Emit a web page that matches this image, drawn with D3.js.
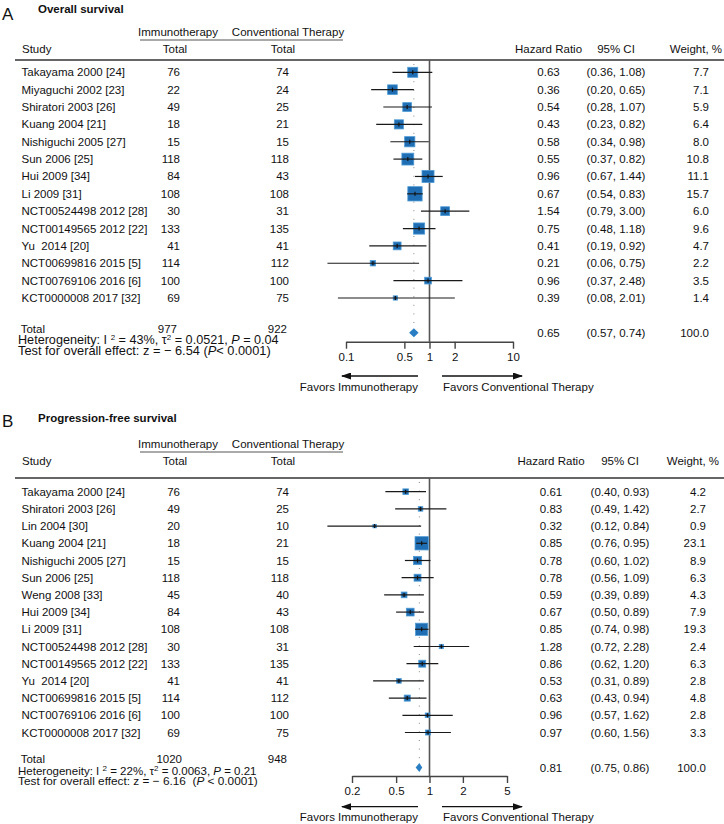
<!DOCTYPE html>
<html>
<head>
<meta charset="utf-8">
<script src="https://cdn.jsdelivr.net/npm/d3@7"></script>
<style>
body { margin: 0; background: #fff; }
svg text { font-family: "Liberation Sans", Arial, Helvetica, sans-serif; font-size: 11.5px; fill: #111; white-space: pre; }
</style>
</head>
<body>
<svg id="chart" width="724" height="824"></svg>
<script>
// ---- A: overall survival ----
var osStudies = ['Takayama 2000 [24]', 'Miyaguchi 2002 [23]', 'Shiratori 2003 [26]', 'Kuang 2004 [21]',
    'Nishiguchi 2005 [27]', 'Sun 2006 [25]', 'Hui 2009 [34]', 'Li 2009 [31]', 'NCT00524498 2012 [28]',
    'NCT00149565 2012 [22]', 'Yu  2014 [20]', 'NCT00699816 2015 [5]', 'NCT00769106 2016 [6]', 'KCT0000008 2017 [32]'];
var osImmuno = [76, 22, 49, 18, 15, 118, 84, 108, 30, 133, 41, 114, 100, 69];
var osConv = [74, 24, 25, 21, 15, 118, 43, 108, 31, 135, 41, 112, 100, 75];
var osHR = [0.63, 0.36, 0.54, 0.43, 0.58, 0.55, 0.96, 0.67, 1.54, 0.75, 0.41, 0.21, 0.96, 0.39];
var osLow = [0.36, 0.20, 0.28, 0.23, 0.34, 0.37, 0.67, 0.54, 0.79, 0.48, 0.19, 0.06, 0.37, 0.08];
var osHigh = [1.08, 0.65, 1.07, 0.82, 0.98, 0.82, 1.44, 0.83, 3.00, 1.18, 0.92, 0.75, 2.48, 2.01];
var osWeight = [7.7, 7.1, 5.9, 6.4, 8.0, 10.8, 11.1, 15.7, 6.0, 9.6, 4.7, 2.2, 3.5, 1.4];
var osTotal = [977, 922, 0.65, 0.57, 0.74, 100.0];
var osTicks = [0.1, 0.5, 1, 2, 10];
var osHet = ['43%', '0.0521', '0.04'];
var osTest = ['6.54', '(', '< 0.0001)'];

// ---- B: progression-free survival ----
var pfsStudies = ['Takayama 2000 [24]', 'Shiratori 2003 [26]', 'Lin 2004 [30]', 'Kuang 2004 [21]',
    'Nishiguchi 2005 [27]', 'Sun 2006 [25]', 'Weng 2008 [33]', 'Hui 2009 [34]', 'Li 2009 [31]',
    'NCT00524498 2012 [28]', 'NCT00149565 2012 [22]', 'Yu  2014 [20]', 'NCT00699816 2015 [5]',
    'NCT00769106 2016 [6]', 'KCT0000008 2017 [32]'];
var pfsImmuno = [76, 49, 20, 18, 15, 118, 45, 84, 108, 30, 133, 41, 114, 100, 69];
var pfsConv = [74, 25, 10, 21, 15, 118, 40, 43, 108, 31, 135, 41, 112, 100, 75];
var pfsHR = [0.61, 0.83, 0.32, 0.85, 0.78, 0.78, 0.59, 0.67, 0.85, 1.28, 0.86, 0.53, 0.63, 0.96, 0.97];
var pfsLow = [0.40, 0.49, 0.12, 0.76, 0.60, 0.56, 0.39, 0.50, 0.74, 0.72, 0.62, 0.31, 0.43, 0.57, 0.60];
var pfsHigh = [0.93, 1.42, 0.84, 0.95, 1.02, 1.09, 0.89, 0.89, 0.98, 2.28, 1.20, 0.89, 0.94, 1.62, 1.56];
var pfsWeight = [4.2, 2.7, 0.9, 23.1, 8.9, 6.3, 4.3, 7.9, 19.3, 2.4, 6.3, 2.8, 4.8, 2.8, 3.3];
var pfsTotal = [1020, 948, 0.81, 0.75, 0.86, 100.0];
var pfsTicks = [0.2, 0.5, 1, 2, 5];
var pfsHet = ['22%', '0.0063', '0.21'];
var pfsTest = ['6.16', ' (', ' < 0.0001)'];

var svg = d3.select('#chart');
var f2 = d3.format('.2f'), f1 = d3.format('.1f');

// arrowhead
svg.append('defs').append('marker')
    .attr('id', 'arrow').attr('markerUnits', 'userSpaceOnUse')
    .attr('markerWidth', 10).attr('markerHeight', 7)
    .attr('refX', 9).attr('refY', 3.5).attr('orient', 'auto')
    .append('path').attr('d', 'M0,0 L10,3.5 L0,7 Z').attr('fill', '#111');

function text(x, y, s, anchor) {
    return svg.append('text').attr('x', x).attr('y', y).attr('dy', '0.35em')
        .attr('text-anchor', anchor || 'start').text(s);
}

// scale the font of a footer line to the width seen in the picture
function fitWidth(t, target) {
    var w = t.node().getComputedTextLength();
    var fs = Math.min(12.8, 11.5 * target / w);
    t.style('font-size', fs + 'px');
}

function drawPanel(p) {
    var x = d3.scaleLog().domain([p.ticks[0], p.ticks[p.ticks.length - 1]]).range(p.range);
    var side = d3.scaleSqrt().domain([0, d3.max(p.weight)]).range([0, p.sqMax]);
    var y = function(i) { return p.row0 + i * p.step; };

    // titles
    text(2, p.letterY, p.letter).style('font-size', '17px');
    text(38, p.titleY, p.title).style('font-weight', 'bold');

    // headers
    text(178, p.groupY, 'Immunotherapy', 'middle');
    text(288, p.groupY, 'Conventional Therapy', 'middle');
    svg.append('line').attr('x1', 140).attr('x2', 343).attr('y1', p.underY).attr('y2', p.underY)
        .attr('stroke', '#555').attr('stroke-width', 1);
    text(22, p.headY, 'Study');
    text(175, p.headY, 'Total', 'middle');
    text(283, p.headY, 'Total', 'middle');
    text(p.hrX, p.headY, 'Hazard Ratio', 'middle');
    text(p.ciX, p.headY, '95% CI', 'middle');
    text(p.wX + 13, p.headY, 'Weight, %', 'end');
    svg.append('line').attr('x1', 15).attr('x2', 724).attr('y1', p.lineY).attr('y2', p.lineY)
        .attr('stroke', '#666').attr('stroke-width', 2);

    // null line and pooled dotted line
    svg.append('line').attr('x1', x(1)).attr('x2', x(1)).attr('y1', p.lineY).attr('y2', p.axisY)
        .attr('stroke', '#555').attr('stroke-width', 1.6);
    svg.append('line').attr('x1', x(p.total[2])).attr('x2', x(p.total[2]))
        .attr('y1', p.lineY + 4).attr('y2', p.totalRY - 5)
        .attr('stroke', '#888').attr('stroke-width', 1).attr('stroke-dasharray', '1,7.6');

    // study rows
    p.studies.forEach(function(s, i) {
        var cy = y(i);
        text(21.5, cy, s);
        text(180, cy, String(p.immuno[i]), 'end');
        text(289, cy, String(p.conv[i]), 'end');
        text(p.hrX, cy, f2(p.hr[i]), 'middle');
        text(p.ciX, cy, '(' + f2(p.low[i]) + ', ' + f2(p.high[i]) + ')', 'middle');
        text(p.wX, cy, f1(p.weight[i]), 'end');

        var w = Math.max(side(p.weight[i]), 3.5);
        svg.append('rect').attr('x', x(p.hr[i]) - w / 2).attr('y', cy - w / 2)
            .attr('width', w).attr('height', w)
            .attr('fill', '#1f6db2').attr('stroke', '#4d9bd6').attr('stroke-width', 0.8);
        svg.append('line').attr('x1', x(p.low[i])).attr('x2', x(p.high[i])).attr('y1', cy).attr('y2', cy)
            .attr('stroke', '#1a1a1a').attr('stroke-width', 1.2);
        svg.append('line').attr('x1', x(p.hr[i])).attr('x2', x(p.hr[i])).attr('y1', cy - 2).attr('y2', cy + 2)
            .attr('stroke', '#111').attr('stroke-width', 1.2);
    });

    // total row
    text(20.7, p.totalLY, 'Total');
    text(p.totImX, p.totalLY, String(p.total[0]), 'end');
    text(287, p.totalLY, String(p.total[1]), 'end');
    text(p.hrX, p.totalRY, f2(p.total[2]), 'middle');
    text(p.ciX, p.totalRY, '(' + f2(p.total[3]) + ', ' + f2(p.total[4]) + ')', 'middle');
    text(p.wX, p.totalRY, f1(p.total[5]), 'end');
    var dy = p.totalRY - 0.5;
    svg.append('path')
        .attr('d', 'M' + x(p.total[3]) + ',' + dy + 'L' + x(p.total[2]) + ',' + (dy - 4.5) +
            'L' + x(p.total[4]) + ',' + dy + 'L' + x(p.total[2]) + ',' + (dy + 4.5) + 'Z')
        .attr('fill', '#2a7fc4');

    // heterogeneity / overall effect
    var het = text(18, p.hetY, 'Heterogeneity: I ');
    het.append('tspan').attr('dy', -4).style('font-size', '8px').text('2');
    het.append('tspan').attr('dy', 4).text(' = ' + p.het[0] + ', τ');
    het.append('tspan').attr('dy', -4).style('font-size', '8px').text('2');
    het.append('tspan').attr('dy', 4).text(' = ' + p.het[1] + ', ');
    het.append('tspan').style('font-style', 'italic').text('P');
    het.append('tspan').text(' = ' + p.het[2]);
    fitWidth(het, p.hetW);
    var tst = text(18, p.testY, 'Test for overall effect: z = − ' + p.test[0] + ' ' + p.test[1]);
    tst.append('tspan').style('font-style', 'italic').text('P');
    tst.append('tspan').text(p.test[2]);
    fitWidth(tst, p.testW);

    // axis
    var ax = svg.append('g').attr('transform', 'translate(0,' + p.axisY + ')')
        .call(d3.axisBottom(x).tickValues(p.ticks).tickFormat(d3.format(''))
            .tickSizeInner(7).tickSizeOuter(0).tickPadding(4));
    ax.select('.domain').attr('stroke', '#444').attr('stroke-width', 1.4);
    ax.selectAll('.tick line').attr('stroke', '#444').attr('stroke-width', 1.4);

    // favors arrows
    svg.append('line').attr('x1', 418).attr('x2', 342).attr('y1', p.arrowY).attr('y2', p.arrowY)
        .attr('stroke', '#111').attr('stroke-width', 1.3).attr('marker-end', 'url(#arrow)');
    svg.append('line').attr('x1', 442).attr('x2', 522).attr('y1', p.arrowY).attr('y2', p.arrowY)
        .attr('stroke', '#111').attr('stroke-width', 1.3).attr('marker-end', 'url(#arrow)');
    text(418, p.favorsY, 'Favors Immunotherapy', 'end');
    text(443, p.favorsY, 'Favors Conventional Therapy');
}

drawPanel({
    letter: 'A', title: 'Overall survival',
    studies: osStudies, immuno: osImmuno, conv: osConv, hr: osHR, low: osLow, high: osHigh,
    weight: osWeight, total: osTotal, ticks: osTicks, het: osHet, test: osTest,
    range: [346, 513], sqMax: 14.3, hetW: 262, testW: 275, totImX: 177,
    letterY: 14, titleY: 9, groupY: 31.7, underY: 40, headY: 49, lineY: 60,
    row0: 72.3, step: 17.36, totalLY: 329.3, totalRY: 333.3, hetY: 339.8, testY: 350.3,
    axisY: 341.7, arrowY: 376, favorsY: 386.5, hrX: 548.5, ciX: 616, wX: 709
});

drawPanel({
    letter: 'B', title: 'Progression-free survival',
    studies: pfsStudies, immuno: pfsImmuno, conv: pfsConv, hr: pfsHR, low: pfsLow, high: pfsHigh,
    weight: pfsWeight, total: pfsTotal, ticks: pfsTicks, het: pfsHet, test: pfsTest,
    range: [352, 507], sqMax: 13.3, hetW: 239, testW: 240, totImX: 182,
    letterY: 421, titleY: 418, groupY: 443.7, underY: 452, headY: 461, lineY: 478,
    row0: 491.7, step: 17.2, totalLY: 759.3, totalRY: 768, hetY: 770.7, testY: 781,
    axisY: 776, arrowY: 806.7, favorsY: 817, hrX: 551, ciX: 620, wX: 706
});
</script>
</body>
</html>
